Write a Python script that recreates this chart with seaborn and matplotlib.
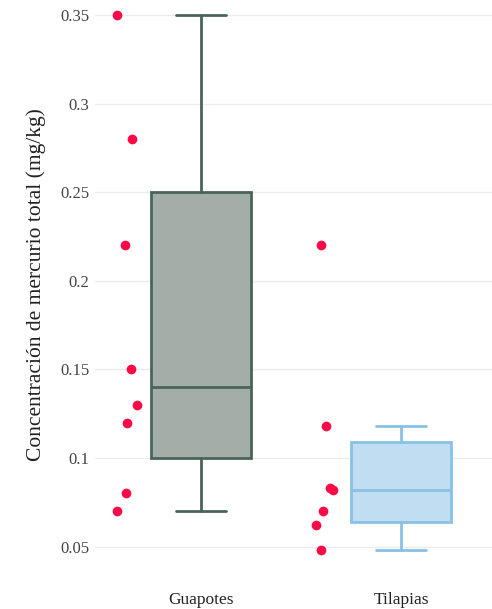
import numpy as np
import pandas as pd
import matplotlib
matplotlib.use("Agg")
import matplotlib.pyplot as plt
import seaborn as sns

# Mercury concentration (mg/kg) per fish sample
species = ["Guapotes", "Tilapias"]
guapotes = [0.35, 0.28, 0.22, 0.15, 0.13, 0.12, 0.08, 0.07]
tilapias = [0.22, 0.118, 0.083, 0.082, 0.07, 0.062, 0.048]
yticks = [0.05, 0.1, 0.15, 0.2, 0.25, 0.3, 0.35]
ytick_labels = ["0.05", "0.1", "0.15", "0.2", "0.25", "0.3", "0.35"]

df = pd.DataFrame({
    "especie": ["Guapotes"] * len(guapotes) + ["Tilapias"] * len(tilapias),
    "mercurio": guapotes + tilapias,
})

edge_colors = ["#4b6459", "#88c1e6"]
fill_colors = ["#a3aea9", "#c1ddf1"]
point_color = "#fb0a48"


def box_stats(values):
    v = np.asarray(values, dtype=float)
    q1, med, q3 = np.percentile(v, [25, 50, 75], method="hazen")
    iqr = q3 - q1
    lo = v[v >= q1 - 1.5 * iqr].min()
    hi = v[v <= q3 + 1.5 * iqr].max()
    return dict(q1=q1, med=med, q3=q3, whislo=lo, whishi=hi, fliers=[])


sns.set_theme(style="white")
plt.rcParams["font.family"] = ["Liberation Serif", "DejaVu Serif"]

W, H = 492, 609
fig = plt.figure(figsize=(W / 100, H / 100), dpi=100)
left_px, right_px, top_px, bottom_px = 95, 492, 0, 570
ax = fig.add_axes([left_px / W, 1 - bottom_px / H,
                   (right_px - left_px) / W, (bottom_px - top_px) / H])

# y pixel scale: 0.05 units per 88.6 px, 0.35 at 15 px from the top
px_per_unit = 88.6 / 0.05
y_top = 0.35 + 15 / px_per_unit
y_bot = 0.35 - (bottom_px - 15) / px_per_unit

for i, (name, vals) in enumerate(zip(species, [guapotes, tilapias])):
    st = box_stats(vals)
    ax.bxp([st], positions=[i], widths=0.5, patch_artist=True,
           showfliers=False, showcaps=True,
           boxprops=dict(facecolor=fill_colors[i], edgecolor=edge_colors[i], linewidth=2),
           medianprops=dict(color=edge_colors[i], linewidth=2),
           whiskerprops=dict(color=edge_colors[i], linewidth=2),
           capprops=dict(color=edge_colors[i], linewidth=2),
           capwidths=0.25, zorder=2)

np.random.seed(7)
sns.stripplot(data=df, x="especie", y="mercurio", order=species,
              color=point_color, size=7, jitter=0.055, linewidth=0,
              ax=ax, zorder=3)
# Shift the sample points to the left side of each box
for coll in ax.collections:
    off = coll.get_offsets()
    if len(off):
        off[:, 0] -= 0.375
        coll.set_offsets(off)

ax.set_xlim(-0.53, 1.455)
ax.set_ylim(y_bot, y_top)
ax.set_xticks([0, 1])
ax.set_xticklabels(species, fontsize=12.5, color="#222222")
ax.set_yticks(yticks)
ax.set_yticklabels(ytick_labels, fontsize=12, color="#444444")
ax.tick_params(axis="x", length=0, pad=16)
ax.tick_params(axis="y", length=0, pad=4)
ax.set_xlabel("")
ax.set_ylabel("Concentración de mercurio total (mg/kg)", fontsize=15.5,
              color="#222222", labelpad=10)
ax.grid(axis="y", color="#ececec", linewidth=1)
ax.grid(axis="x", visible=False)
ax.set_axisbelow(True)
for s in ax.spines.values():
    s.set_visible(False)

fig.savefig("out.png", dpi=100)
